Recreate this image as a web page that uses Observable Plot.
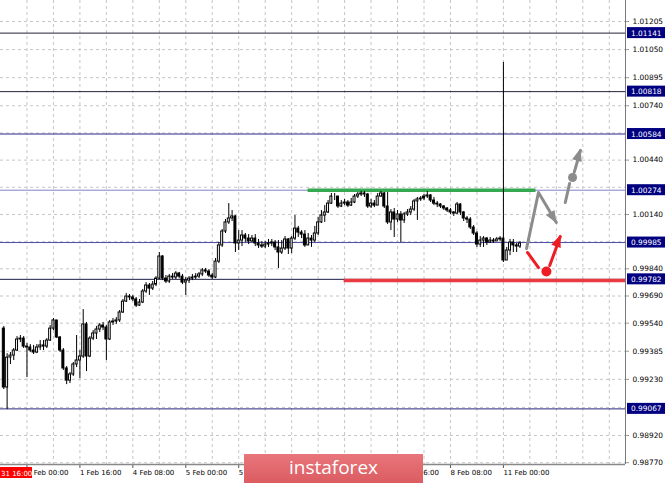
<!DOCTYPE html>
<html><head><meta charset="utf-8">
<script src="https://cdn.jsdelivr.net/npm/d3@7"></script>
<script src="https://cdn.jsdelivr.net/npm/@observablehq/plot@0.6"></script>
<style>
html,body{margin:0;padding:0;background:#fff;}
#wrap{position:relative;width:665px;height:483px;overflow:hidden;background:#fff;}
#logo{position:absolute;left:244px;top:454px;width:179px;height:29px;background:linear-gradient(#e8767b,#db5c61);color:#fff;font:19px "Open Sans",sans-serif;text-align:center;line-height:27px;}
</style></head><body><div id="wrap"></div>
<script>
// ---- data (H1 bars, index 1..157) ----
const opens = [0.99510,0.99185,0.99350,0.99361,0.99389,0.99450,0.99455,0.99411,0.99406,0.99389,0.99378,0.99406,0.99417,0.99411,0.99444,0.99510,0.99555,0.99461,0.99389,0.99290,0.99223,0.99257,0.99312,0.99334,0.99356,0.99533,0.99356,0.99455,0.99483,0.99505,0.99527,0.99516,0.99450,0.99544,0.99549,0.99555,0.99599,0.99659,0.99687,0.99682,0.99671,0.99637,0.99654,0.99715,0.99748,0.99731,0.99753,0.99786,0.99908,0.99786,0.99770,0.99797,0.99792,0.99814,0.99797,0.99764,0.99775,0.99786,0.99792,0.99797,0.99809,0.99831,0.99825,0.99803,0.99792,0.99880,0.99969,1.00046,1.00096,1.00118,1.00129,0.99980,0.99996,1.00024,1.00007,0.99991,1.00007,0.99980,0.99969,0.99963,0.99974,0.99980,0.99985,0.99958,0.99930,0.99952,1.00002,0.99952,1.00007,1.00062,1.00040,1.00029,0.99969,1.00007,0.99996,1.00035,1.00096,1.00134,1.00151,1.00200,1.00239,1.00239,1.00184,1.00200,1.00206,1.00189,1.00206,1.00239,1.00250,1.00256,1.00250,1.00184,1.00200,1.00189,1.00239,1.00256,1.00184,1.00096,1.00151,1.00112,1.00140,1.00107,1.00140,1.00151,1.00167,1.00212,1.00223,1.00228,1.00239,1.00245,1.00217,1.00200,1.00195,1.00184,1.00173,1.00162,1.00151,1.00145,1.00195,1.00151,1.00118,1.00112,1.00068,1.00035,0.99974,0.99996,1.00007,0.99985,0.99996,0.99991,1.00002,1.00007,0.99886,0.99941,0.99985,0.99969,0.99963];
const closes = [0.99185,0.99350,0.99361,0.99389,0.99450,0.99455,0.99411,0.99406,0.99389,0.99378,0.99406,0.99417,0.99411,0.99444,0.99510,0.99555,0.99461,0.99389,0.99290,0.99223,0.99257,0.99312,0.99334,0.99356,0.99533,0.99356,0.99455,0.99483,0.99505,0.99527,0.99516,0.99450,0.99544,0.99549,0.99555,0.99599,0.99659,0.99687,0.99682,0.99671,0.99637,0.99654,0.99715,0.99748,0.99731,0.99753,0.99786,0.99908,0.99786,0.99770,0.99797,0.99792,0.99814,0.99797,0.99764,0.99775,0.99786,0.99792,0.99797,0.99809,0.99831,0.99825,0.99803,0.99792,0.99880,0.99969,1.00046,1.00096,1.00118,1.00129,0.99980,0.99996,1.00024,1.00007,0.99991,1.00007,0.99980,0.99969,0.99963,0.99974,0.99980,0.99985,0.99958,0.99930,0.99952,1.00002,0.99952,1.00007,1.00062,1.00040,1.00029,0.99969,1.00007,0.99996,1.00035,1.00096,1.00134,1.00151,1.00200,1.00239,1.00239,1.00184,1.00200,1.00206,1.00189,1.00206,1.00239,1.00250,1.00256,1.00250,1.00184,1.00200,1.00189,1.00239,1.00256,1.00184,1.00096,1.00151,1.00112,1.00140,1.00107,1.00140,1.00151,1.00167,1.00212,1.00223,1.00228,1.00239,1.00245,1.00217,1.00200,1.00195,1.00184,1.00173,1.00162,1.00151,1.00145,1.00195,1.00151,1.00118,1.00112,1.00068,1.00035,0.99974,0.99996,1.00007,0.99985,0.99996,0.99991,1.00002,1.00007,0.99886,0.99941,0.99985,0.99969,0.99963,0.99980];
const highs = [0.99522,0.99372,0.99378,0.99400,0.99466,0.99472,0.99466,0.99428,0.99422,0.99417,0.99422,0.99444,0.99444,0.99455,0.99527,0.99566,0.99555,0.99466,0.99400,0.99301,0.99268,0.99323,0.99472,0.99389,0.99615,0.99544,0.99466,0.99499,0.99522,0.99538,0.99544,0.99527,0.99555,0.99566,0.99571,0.99610,0.99671,0.99704,0.99698,0.99693,0.99682,0.99671,0.99726,0.99764,0.99759,0.99770,0.99797,0.99930,0.99913,0.99803,0.99809,0.99814,0.99825,0.99820,0.99809,0.99792,0.99797,0.99809,0.99814,0.99820,0.99842,0.99842,0.99836,0.99814,0.99897,0.99985,1.00057,1.00112,1.00200,1.00162,1.00134,1.00051,1.00051,1.00035,1.00029,1.00024,1.00029,1.00002,0.99991,0.99991,1.00002,1.00002,0.99996,0.99996,0.99996,1.00018,1.00007,1.00018,1.00134,1.00074,1.00051,1.00051,1.00035,1.00024,1.00074,1.00123,1.00162,1.00189,1.00217,1.00256,1.00256,1.00239,1.00217,1.00223,1.00217,1.00228,1.00250,1.00261,1.00267,1.00267,1.00256,1.00223,1.00217,1.00256,1.00267,1.00261,1.00261,1.00167,1.00173,1.00162,1.00156,1.00151,1.00167,1.00184,1.00223,1.00234,1.00239,1.00250,1.00267,1.00250,1.00234,1.00212,1.00200,1.00189,1.00178,1.00173,1.00156,1.00206,1.00200,1.00156,1.00129,1.00123,1.00079,1.00046,1.00018,1.00018,1.00013,1.00013,1.00007,1.00013,1.00018,1.00979,0.99958,1.00002,1.00002,0.99980,0.99991];
const lows = [0.99174,0.99063,0.99312,0.99334,0.99383,0.99433,0.99400,0.99240,0.99378,0.99367,0.99372,0.99389,0.99389,0.99400,0.99439,0.99499,0.99455,0.99378,0.99279,0.99201,0.99207,0.99246,0.99295,0.99234,0.99345,0.99273,0.99350,0.99444,0.99450,0.99488,0.99499,0.99334,0.99444,0.99527,0.99533,0.99544,0.99593,0.99654,0.99665,0.99659,0.99626,0.99632,0.99648,0.99704,0.99693,0.99720,0.99742,0.99781,0.99775,0.99759,0.99759,0.99781,0.99781,0.99786,0.99753,0.99693,0.99759,0.99775,0.99781,0.99786,0.99797,0.99814,0.99792,0.99781,0.99786,0.99869,0.99958,1.00035,1.00085,1.00101,0.99930,0.99941,0.99963,0.99985,0.99974,0.99985,0.99963,0.99952,0.99952,0.99952,0.99958,0.99963,0.99941,0.99842,0.99919,0.99941,0.99919,0.99924,0.99996,1.00013,1.00007,0.99958,0.99969,0.99958,0.99985,1.00024,1.00090,1.00096,1.00145,1.00195,1.00217,1.00173,1.00178,1.00189,1.00178,1.00184,1.00200,1.00228,1.00239,1.00234,1.00173,1.00173,1.00178,1.00189,1.00234,1.00173,1.00085,1.00051,1.00013,1.00096,0.99985,1.00090,1.00129,1.00134,1.00156,1.00107,1.00212,1.00217,1.00228,1.00206,1.00189,1.00178,1.00173,1.00162,1.00151,1.00140,1.00129,1.00140,1.00134,1.00101,1.00090,1.00057,1.00024,0.99958,0.99958,0.99958,0.99969,0.99980,0.99980,0.99991,0.99991,0.99875,0.99886,0.99913,0.99930,0.99930,0.99952];

const timeTicks  = [8,24,40,56,72,88,104,120,136,152];
const timeLabels = ["1 Feb 00:00","1 Feb 16:00","4 Feb 08:00","5 Feb 00:00","5 Feb 16:00","6 Feb 08:00","7 Feb 00:00","7 Feb 16:00","8 Feb 08:00","11 Feb 00:00"];
const cursorLabel = "31 16:00";
const priceTicks = [1.01205,1.01050,1.00895,1.00740,1.00440,1.00140,0.99840,0.99690,0.99540,0.99385,0.99230,0.98920,0.98770];
const hiddenPriceTicks = [1.00590,1.00290,0.99990,0.99075];
const levels      = [1.01141,1.00818,1.00584,1.00274,0.99985,0.99782,0.99067];
const levelColors = ["#22223a","#22223a","#2a2a88","#8080c8","#4a4aa4","#1c1c44","#2a2a80"];
const gridBars = [8,16,24,32,40,48,56,64,72,80,88,96,104,112,120,128,136,144,152,160,168,176,184];

const greenZone = [{x1:92.8, x2:161.7, y:1.00274}];
const redZone   = [{x1:103.7, x2:188.9, y:0.99775}];
const grayPath1 = [{x:159.0,y:0.99952},{x:162.6,y:1.00261},{x:168.0,y:1.00096}];
const grayPath2 = [{x:170.7,y:1.00206},{x:172.0,y:1.00311}];
const grayDot   = [{x:172.9,y:1.00344}];
const grayPath3 = [{x:173.4,y:1.00372},{x:175.3,y:1.00493}];
const redPath1  = [{x:159.3,y:0.99930},{x:162.6,y:0.99847}];
const redDot    = [{x:165.0,y:0.99825}];
const redPath2  = [{x:166.0,y:0.99858},{x:169.2,y:1.00018}];

const xDomain = [0, 188.9];
const yDomain = [0.98760, 1.01321];

const candles = closes.map((c,k)=>({i:k+1,o:opens[k],c,h:Math.max(highs[k],opens[k],c),l:Math.min(lows[k],opens[k],c)}));
const bulls = candles.filter(d=>d.c>=d.o), bears = candles.filter(d=>d.c<d.o);
const labelMap = new Map(timeTicks.map((t,k)=>[t,timeLabels[k]]));
const levelData = levels.map((v,k)=>({v,color:levelColors[k]}));
const GRAY="#8c8c8c", RED="#ee1d25";

const plot = Plot.plot({
  width:665, height:483, marginLeft:0, marginRight:40, marginTop:0, marginBottom:19,
  x:{domain:xDomain, label:null}, y:{domain:yDomain, label:null},
  style:{fontFamily:"DejaVu Sans", fontSize:"7.4px", background:"#fff", color:"#000"},
  marks:[
    Plot.gridX(gridBars,{stroke:"#c6c6c6", strokeOpacity:1, strokeDasharray:"3,3"}),
    Plot.gridY(priceTicks.concat(hiddenPriceTicks),{stroke:"#c6c6c6", strokeOpacity:1, strokeDasharray:"3,3"}),
    ...levelData.map(d=>Plot.ruleY([d.v],{stroke:d.color, strokeWidth:1})),
    Plot.link(greenZone,{x1:"x1",x2:"x2",y1:"y",y2:"y",stroke:"#35a852",strokeWidth:3.5}),
    Plot.link(redZone,{x1:"x1",x2:"x2",y1:"y",y2:"y",stroke:"#ea3a42",strokeWidth:3.5}),
    Plot.ruleX(candles,{x:"i",y1:"l",y2:"h",stroke:"#000",strokeWidth:1}),
    Plot.rect(bears,{x1:d=>d.i-0.3,x2:d=>d.i+0.3,y1:"o",y2:"c",fill:"#000",stroke:"#000",strokeWidth:1}),
    Plot.rect(bulls,{x1:d=>d.i-0.3,x2:d=>d.i+0.3,y1:"o",y2:"c",fill:"#fff",stroke:"#000",strokeWidth:1}),
    Plot.line(grayPath1,{x:"x",y:"y",stroke:GRAY,strokeWidth:3}),
    Plot.line(grayPath2,{x:"x",y:"y",stroke:GRAY,strokeWidth:3}),
    Plot.line(grayPath3,{x:"x",y:"y",stroke:GRAY,strokeWidth:3}),
    Plot.dot(grayDot,{x:"x",y:"y",r:4.5,fill:GRAY}),
    Plot.line(redPath1,{x:"x",y:"y",stroke:RED,strokeWidth:3}),
    Plot.line(redPath2,{x:"x",y:"y",stroke:RED,strokeWidth:3}),
    Plot.dot(redDot,{x:"x",y:"y",r:5,fill:RED}),
    Plot.axisY(priceTicks,{anchor:"right",tickSize:3,tickPadding:4,tickFormat:d3.format(".5f"),stroke:"#999",fill:"#000",label:null}),
    Plot.axisX(timeTicks,{anchor:"bottom",tickSize:4,tickPadding:2,tickFormat:d=>labelMap.get(d),textAnchor:"start",dx:0,fontSize:7,stroke:"#555",fill:"#000",label:null}),
    Plot.ruleX([xDomain[1]],{stroke:"#7a7a7a",strokeWidth:1}),
    Plot.ruleY([yDomain[0]],{stroke:"#888",strokeWidth:1.6})
  ]
});

document.getElementById("wrap").appendChild(plot);
const sx = plot.scale("x"), sy = plot.scale("y");
const svg = d3.select(plot);
const ov = svg.append("g").attr("text-anchor","start");
// arrowheads
function head(path,color){
  const a=path[path.length-2], b=path[path.length-1];
  const x0=sx.apply(a.x),y0=sy.apply(a.y),x1=sx.apply(b.x),y1=sy.apply(b.y);
  const L=Math.hypot(x1-x0,y1-y0), ux=(x1-x0)/L, uy=(y1-y0)/L;
  const hl=11, hw=5;
  const bx=x1-ux*hl, by=y1-uy*hl;
  ov.append("polygon").attr("points",[[x1+ux*1.5,y1+uy*1.5],[bx-uy*hw,by+ux*hw],[bx+uy*hw,by-ux*hw]].map(p=>p.join(",")).join(" ")).attr("fill",color);
}
head(grayPath1,GRAY); head(grayPath3,GRAY); head(redPath2,RED);
// level price labels
const xr = sx.apply(xDomain[1]);
levels.forEach(v=>{
  const y=sy.apply(v);
  ov.append("rect").attr("x",xr+2).attr("y",y-5.5).attr("width",40).attr("height",11).attr("fill","#000080");
  ov.append("text").attr("x",xr+6).attr("y",y+3).attr("text-anchor","start").attr("fill","#fff").attr("font-size","7.4px").text(d3.format(".5f")(v));
});
// time cursor label
const yb = sy.apply(yDomain[0]);
ov.append("rect").attr("x",0).attr("y",yb+3).attr("width",32).attr("height",11).attr("fill","#ff0000");
ov.append("text").attr("x",1).attr("y",yb+11.5).attr("text-anchor","start").attr("fill","#fff").attr("font-size","7px").text(cursorLabel);
// watermark
const logo=document.createElement("div"); logo.id="logo"; logo.textContent="instaforex";
document.getElementById("wrap").appendChild(logo);
</script>
</body></html>
